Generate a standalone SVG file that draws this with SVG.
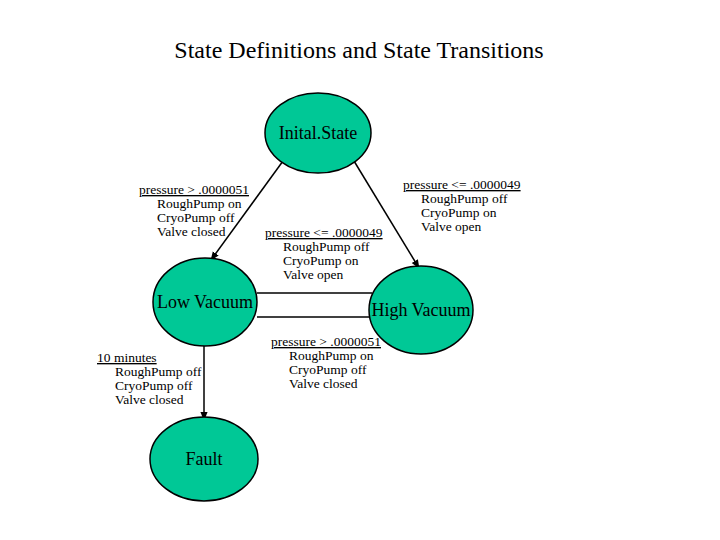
<svg xmlns="http://www.w3.org/2000/svg" width="720" height="540" viewBox="0 0 720 540">
<defs>
<marker id="arr" viewBox="0 0 10 10" refX="9" refY="5" markerWidth="6" markerHeight="6" orient="auto"><path d="M0,1 L10,5 L0,9 z" fill="#000"/></marker>
<style>
.st{fill:#00c896;stroke:#000;stroke-width:1.5}
.nl{font-family:"Liberation Serif",serif;font-size:18px;fill:#000;text-anchor:middle}
.lb{font-family:"Liberation Serif",serif;font-size:13.5px;fill:#000}
.u{text-decoration:underline}
.c{stroke:#000;stroke-width:1.5;fill:none}
</style>
</defs>
<rect width="720" height="540" fill="#fff"/>
<text x="359" y="58" font-family="Liberation Serif,serif" font-size="24" text-anchor="middle">State Definitions and State Transitions</text>
<g id="connectors">
<line class="c" x1="283" y1="161" x2="211" y2="260" marker-end="url(#arr)"/>
<line class="c" x1="354" y1="161" x2="419" y2="268" marker-end="url(#arr)"/>
<line class="c" x1="257" y1="293" x2="372" y2="293"/>
<line class="c" x1="257" y1="317" x2="372" y2="317"/>
<line class="c" x1="204" y1="346" x2="204" y2="420" marker-end="url(#arr)"/>
</g>
<g id="initial"><ellipse class="st" cx="318" cy="133" rx="53" ry="40"/><text class="nl" x="318" y="139">Inital.State</text></g>
<g id="low"><ellipse class="st" cx="205" cy="302" rx="52" ry="44"/><text class="nl" x="205" y="308">Low Vacuum</text></g>
<g id="high"><ellipse class="st" cx="421" cy="310" rx="52" ry="44"/><text class="nl" x="421" y="316">High Vacuum</text></g>
<g id="fault"><ellipse class="st" cx="204" cy="459" rx="54" ry="42"/><text class="nl" x="204" y="465">Fault</text></g>
<g id="labels">
<text class="lb" x="139" y="194"><tspan class="u">pressure &gt; .0000051</tspan><tspan x="157" dy="14">RoughPump on</tspan><tspan x="157" dy="14">CryoPump off</tspan><tspan x="157" dy="14">Valve closed</tspan></text>
<text class="lb" x="403" y="189"><tspan class="u">pressure &lt;= .0000049</tspan><tspan x="421" dy="14">RoughPump off</tspan><tspan x="421" dy="14">CryoPump on</tspan><tspan x="421" dy="14">Valve open</tspan></text>
<text class="lb" x="265" y="237"><tspan class="u">pressure &lt;= .0000049</tspan><tspan x="283" dy="14">RoughPump off</tspan><tspan x="283" dy="14">CryoPump on</tspan><tspan x="283" dy="14">Valve open</tspan></text>
<text class="lb" x="271" y="346"><tspan class="u">pressure &gt; .0000051</tspan><tspan x="289" dy="14">RoughPump on</tspan><tspan x="289" dy="14">CryoPump off</tspan><tspan x="289" dy="14">Valve closed</tspan></text>
<text class="lb" x="97" y="362"><tspan class="u">10 minutes</tspan><tspan x="115" dy="14">RoughPump off</tspan><tspan x="115" dy="14">CryoPump off</tspan><tspan x="115" dy="14">Valve closed</tspan></text>
</g>
</svg>
